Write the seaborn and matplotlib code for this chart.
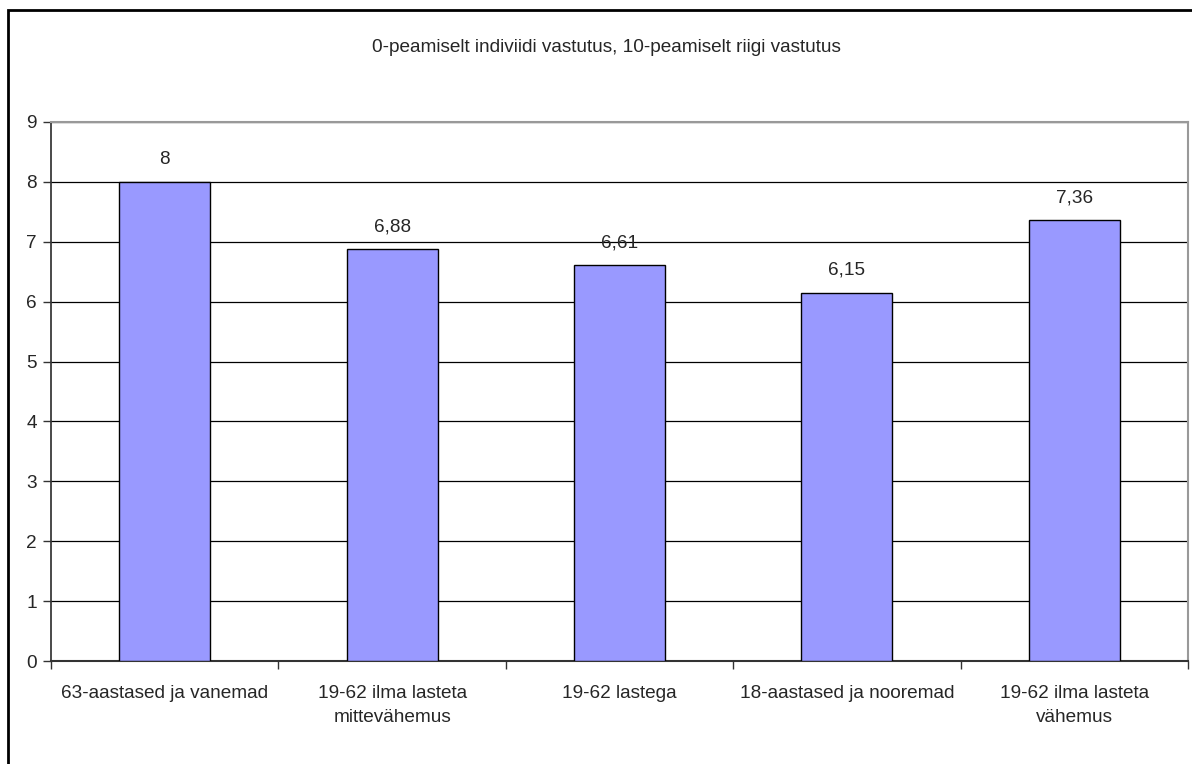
import matplotlib
matplotlib.use("Agg")
import matplotlib.pyplot as plt
import seaborn as sns
import pandas as pd
from matplotlib.patches import Rectangle
from matplotlib.ticker import FixedLocator

# data
categories = ["63-aastased ja vanemad", "19-62 ilma lasteta\nmittevähemus", "19-62 lastega",
              "18-aastased ja nooremad", "19-62 ilma lasteta\nvähemus"]
values = [8, 6.88, 6.61, 6.15, 7.36]
title = "0-peamiselt indiviidi vastutus, 10-peamiselt riigi vastutus"

df = pd.DataFrame({"group": categories, "score": values})

sns.set_theme(style="white")
plt.rcParams['font.family'] = ['Liberation Sans', 'DejaVu Sans']
fs = 13.7

fig = plt.figure(figsize=(11.92, 7.64), dpi=100)
ax = fig.add_axes([51 / 1192, 1 - 661 / 764, (1188 - 51) / 1192, (661 - 122) / 764])

sns.barplot(data=df, x="group", y="score", color="#9999FF", edgecolor="black",
            linewidth=1, width=0.4, saturation=1, ax=ax, zorder=3)

# value labels with decimal comma
for i, v in enumerate(values):
    lab = ("%g" % v).replace(".", ",")
    ax.annotate(lab, (i, v), xytext=(0, 10), textcoords="offset points",
                ha="center", va="bottom", fontsize=fs)

ax.set_ylim(0, 9)
ax.set_xlim(-0.5, len(categories) - 0.5)
ax.set_yticks(range(0, 10))
ax.yaxis.grid(True, color="black", linewidth=0.9)
ax.set_axisbelow(True)

# category ticks sit between bars
ax.xaxis.set_major_locator(FixedLocator([i + 0.5 for i in range(-1, len(categories))]))
ax.set_xticklabels([""] * (len(categories) + 1))
ax.xaxis.set_minor_locator(FixedLocator(range(len(categories))))
ax.set_xticklabels(categories, minor=True, fontsize=fs, linespacing=1.6)
ax.tick_params(axis="x", which="major", length=6, width=1, color="#333333", direction="out", bottom=True)
ax.tick_params(axis="x", which="minor", length=0, pad=17)
ax.tick_params(axis="y", length=6, width=1, color="#333333", direction="out", left=True, labelsize=fs, pad=4)

ax.set_xlabel("")
ax.set_ylabel("")

for s in ["top", "right"]:
    ax.spines[s].set_color("#999999")
    ax.spines[s].set_linewidth(1.5)
ax.spines["left"].set_color("#333333")
ax.spines["bottom"].set_color("#333333")
ax.spines["bottom"].set_linewidth(1.5)

fig.text(606 / 1192, 1 - 47 / 764, title, ha="center", va="center", fontsize=fs)

# outer chart frame (runs off the right and bottom edge)
fig.patches.append(Rectangle((8 / 1192, -0.05), 1.1, 1 - 10 / 764 + 0.05,
                             transform=fig.transFigure, fill=False,
                             edgecolor="black", linewidth=2))

fig.savefig("out.png", dpi=100)
